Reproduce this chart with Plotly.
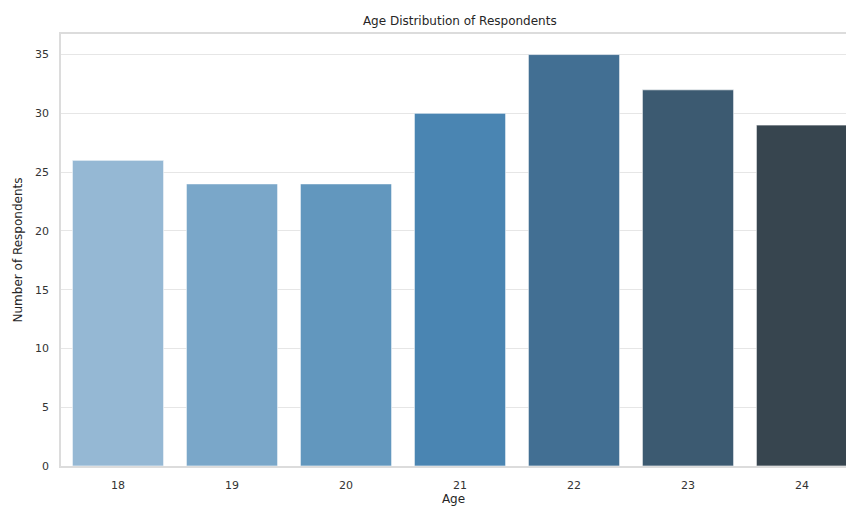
import plotly.graph_objects as go

ages = ["18", "19", "20", "21", "22", "23", "24"]
counts = [26, 24, 24, 30, 35, 32, 29]
bar_colors = ["#95b8d4", "#7aa7c9", "#6297be", "#4a85b2", "#426f93", "#3c5a71", "#37454f"]
y_ticks = [0, 5, 10, 15, 20, 25, 30, 35]

fig = go.Figure(go.Bar(
    x=ages, y=counts,
    marker=dict(color=bar_colors, line=dict(color="white", width=0.6)),
    width=0.8,
))

font_fam = "DejaVu Sans, sans-serif"
fig.update_layout(
    width=846, height=509,
    margin=dict(l=61, r=0, t=34, b=43, autoexpand=False),
    paper_bgcolor="white", plot_bgcolor="white",
    font=dict(family=font_fam, size=11, color="#333333"),
    title=dict(text="Age Distribution of Respondents", x=0.508, xref="paper",
               xanchor="center", y=1, yref="container", yanchor="top",
               pad=dict(t=17), font=dict(size=12, color="#262626")),
    showlegend=False,
)
fig.update_xaxes(
    type="category", range=[-0.5, 6.386], automargin=False,
    showgrid=False, showline=True, mirror=True, linecolor="#dcdcdc", linewidth=1.5,
    ticks="", ticklabelstandoff=8,
    title=dict(text="Age", standoff=4, font=dict(size=12, color="#262626")),
    tickfont=dict(size=11, color="#333333"),
)
fig.update_yaxes(
    range=[0, 36.75], tickvals=y_ticks, automargin=False,
    showgrid=True, gridcolor="#e6e6e6", gridwidth=1,
    showline=True, mirror=False, linecolor="#dcdcdc", linewidth=1.5,
    zeroline=False, ticks="", ticklabelstandoff=8,
    title=dict(text="Number of Respondents", standoff=10, font=dict(size=12, color="#262626")),
    tickfont=dict(size=11, color="#333333"),
)

post = (
    "document.documentElement.style.margin='0';"
    "document.body.style.margin='0';"
    "document.body.style.padding='0';"
    "document.body.style.overflow='hidden';"
    "var gd=document.getElementById('{plot_id}');"
    "Plotly.relayout(gd,{width:846,height:509});"
)
fig.write_html("out.html", post_script=post, config={"displayModeBar": False})
